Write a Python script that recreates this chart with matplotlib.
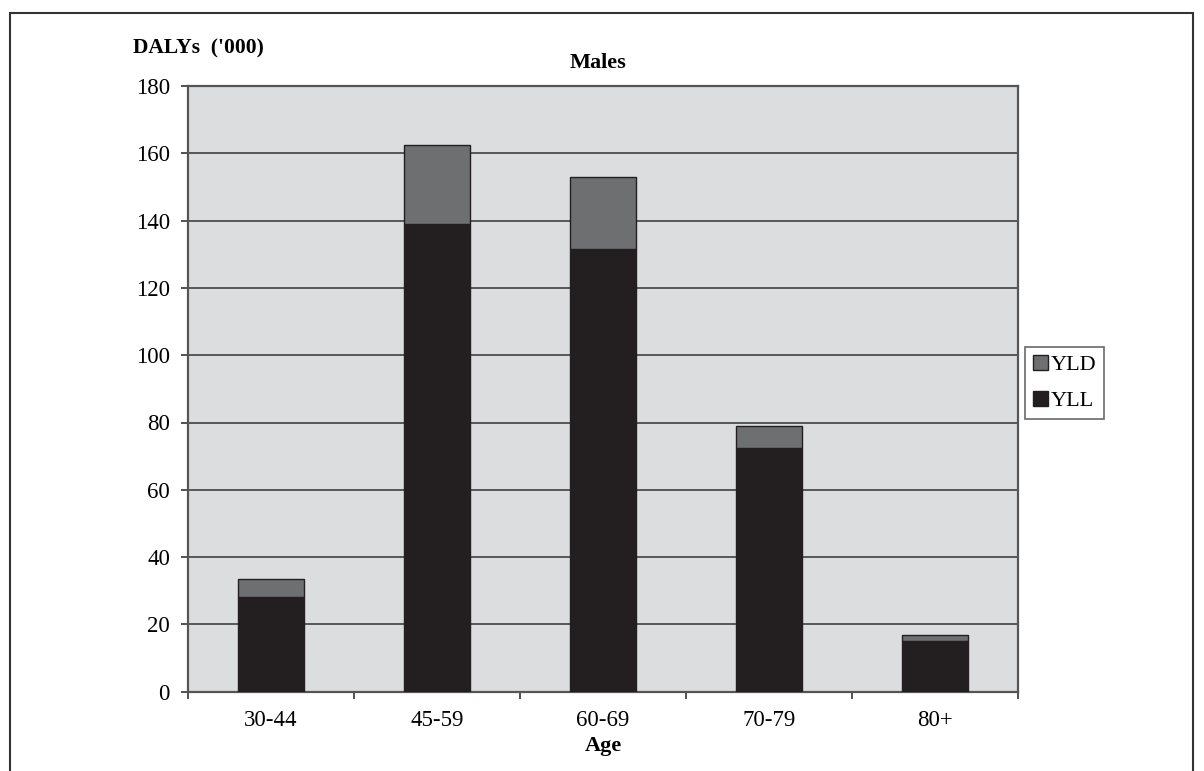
import matplotlib
matplotlib.use("Agg")
import matplotlib.pyplot as plt
import numpy as np
from matplotlib.patches import Rectangle

# values (DALYs, thousands)
age_groups = ["30-44", "45-59", "60-69", "70-79", "80+"]
yll = [28.1, 138.9, 131.6, 72.5, 15.1]
yld = [5.3, 23.6, 21.4, 6.5, 1.8]

plt.rcParams["font.family"] = ["Liberation Serif", "DejaVu Serif"]

W, H = 1204, 771
fig = plt.figure(figsize=(W / 100, H / 100), dpi=100)

# outer frame
fig.patches.append(Rectangle((10 / W, -0.01), 1183 / W, 1 - 13 / H + 0.01,
                             transform=fig.transFigure, fill=False,
                             edgecolor="#333333", linewidth=1.5))

ax = fig.add_axes([188 / W, 1 - 691.7 / H, 830 / W, 605.7 / H])
ax.set_facecolor("#dcdddf")

x = np.arange(len(age_groups))
ax.bar(x, yll, width=0.4, color="#231f20", edgecolor="#231f20",
       linewidth=1, label="YLL", zorder=3)
ax.bar(x, yld, width=0.4, bottom=yll, color="#6e6f71", edgecolor="#231f20",
       linewidth=1, label="YLD", zorder=3)

ax.set_xlim(-0.5, len(age_groups) - 0.5)
ax.set_ylim(0, 180)
ax.set_yticks(np.arange(0, 181, 20))
ax.yaxis.grid(True, color="#333333", linewidth=1.1, zorder=1)
ax.set_axisbelow(True)

ax.set_xticks(x)
ax.set_xticklabels(age_groups)
ax.set_xticks(np.arange(-0.5, len(age_groups), 1), minor=True)
ax.tick_params(axis="x", which="major", length=0, pad=13, labelsize=16.5)
ax.tick_params(axis="x", which="minor", length=5, width=1.2, color="#333333")
ax.tick_params(axis="y", length=5, width=1.2, color="#333333", pad=8, labelsize=16.5)

for s in ax.spines.values():
    s.set_color("#555555")
    s.set_linewidth(1.6)

ax.set_xlabel("Age", fontsize=16, fontweight="bold", labelpad=4)
fig.text(133 / W, 1 - 48 / H, "DALYs  ('000)", fontsize=15.5, fontweight="bold",
         va="center", ha="left")
fig.text(598 / W, 1 - 63 / H, "Males", fontsize=16, fontweight="bold",
         va="center", ha="center")

handles, labels = ax.get_legend_handles_labels()
leg = fig.legend(handles[::-1], labels[::-1], loc="upper left",
                 bbox_to_anchor=(1025 / W, 1 - 347 / H), fontsize=16,
                 frameon=True, fancybox=False, handlelength=0.7,
                 handleheight=0.7, handletextpad=0.1, borderpad=0.35,
                 labelspacing=0.7, borderaxespad=0)
leg.get_frame().set_edgecolor("#444444")
leg.get_frame().set_linewidth(1.2)

fig.savefig("out.png", dpi=100)
